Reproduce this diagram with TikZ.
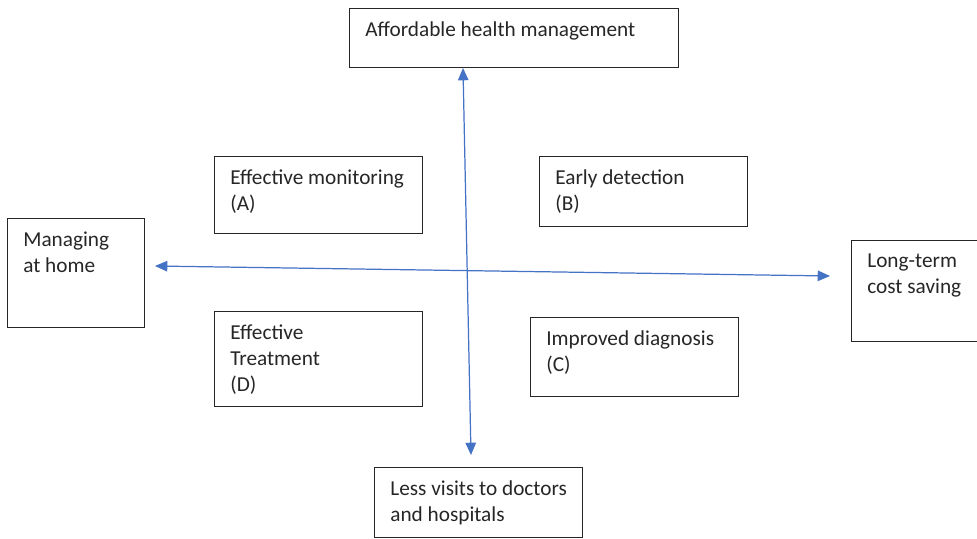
\documentclass[tikz,border=0pt]{standalone}
\usepackage{fontspec}
\setmainfont{Carlito}
\usetikzlibrary{arrows.meta}
\definecolor{axisblue}{HTML}{4472C4}
\definecolor{txtgray}{HTML}{262626}
\begin{document}
\begin{tikzpicture}[x=0.02cm,y=-0.02cm,
	panel/.style={draw=black!85, line width=0.6pt, anchor=north west, inner sep=0pt},
	caption/.style={anchor=north west, inner sep=0pt, xshift=0.32cm, yshift=-0.27cm,
		align=left, text=txtgray, font=\fontsize{12.1}{14.7}\selectfont},
	axis/.style={draw=axisblue, line width=0.7pt, {Triangle[length=7pt,width=6pt]}-{Triangle[length=7pt,width=6pt]}}]
	\useasboundingbox (0,0) rectangle (977,538);
	\node (health) at (349,8) [panel, minimum width=6.58cm, minimum height=1.18cm,
		label={[caption]north west:Affordable health management}] {};
	\node (monitor) at (214,156) [panel, minimum width=4.16cm, minimum height=1.54cm,
		label={[caption]north west:Effective monitoring\\(A)}] {};
	\node (detect) at (539,156) [panel, minimum width=4.16cm, minimum height=1.40cm,
		label={[caption]north west:Early detection\\(B)}] {};
	\node (home) at (7,218) [panel, minimum width=2.74cm, minimum height=2.18cm,
		label={[caption]north west:Managing\\at home}] {};
	\node (saving) at (851,240) [panel, minimum width=2.74cm, minimum height=2.02cm,
		label={[caption]north west:Long-term\\cost saving}] {};
	\node (treat) at (214,311) [panel, minimum width=4.16cm, minimum height=1.90cm,
		label={[caption]north west:Effective\\Treatment\\(D)}] {};
	\node (diag) at (530,317) [panel, minimum width=4.16cm, minimum height=1.58cm,
		label={[caption]north west:Improved diagnosis\\(C)}] {};
	\node (visits) at (374,467) [panel, minimum width=4.16cm, minimum height=1.40cm,
		label={[caption]north west:Less visits to doctors\\and hospitals}] {};
	\coordinate (vtop) at (463,68);
	\coordinate (vbot) at (471,455);
	\coordinate (hleft) at (155,266);
	\coordinate (hright) at (830,276);
	\draw[axis] (vtop) -- (vbot);
	\draw[axis] (hleft) -- (hright);
\end{tikzpicture}
\end{document}
